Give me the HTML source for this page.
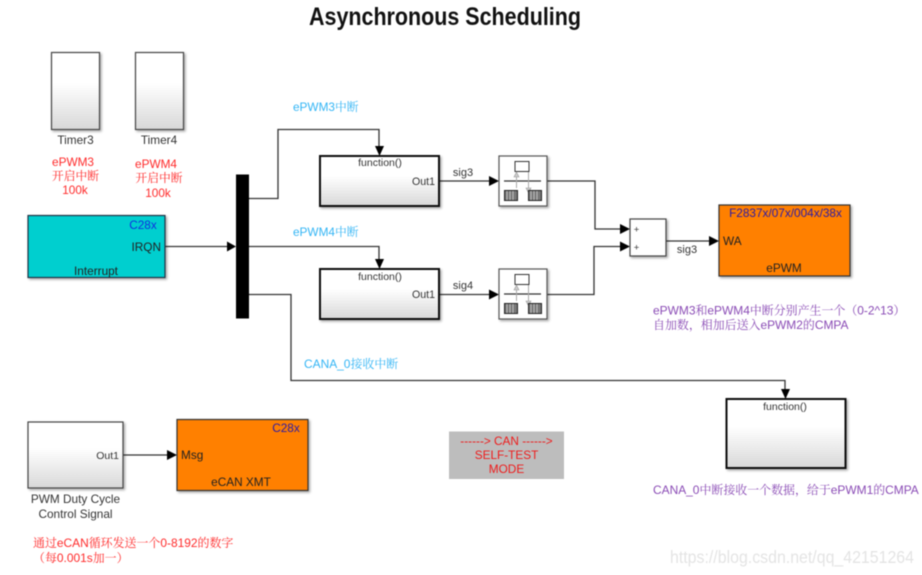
<!DOCTYPE html>
<html>
<head>
<meta charset="utf-8">
<style>
html,body{margin:0;padding:0;background:#fff}
svg{display:block;filter:blur(.5px)}
text{font-family:"Liberation Sans","Noto Serif CJK SC",serif;font-size:11.8px;fill:#333}
.m{text-anchor:middle}
.e{text-anchor:end}
.r{fill:#ff2a2a}
.c{fill:#33b5f5}
.p{fill:#8a4bb5}
.w2{font-size:11.95px}
.b{fill:#1a1acc}
.d{fill:#222}
.w{fill:none;stroke:#333;stroke-width:1.3}
.a{fill:#000}
</style>
</head>
<body>
<svg width="922" height="575" viewBox="0 0 922 575" xmlns="http://www.w3.org/2000/svg">
<defs>
<linearGradient id="g" x1="0" y1="0" x2="0" y2="1">
<stop offset="0" stop-color="#fff"/><stop offset=".4" stop-color="#fff"/><stop offset="1" stop-color="#d8d8d8"/>
</linearGradient>
<filter id="s" x="-10%" y="-10%" width="125%" height="125%">
<feDropShadow dx="1.5" dy="1.5" stdDeviation="1.2" flood-color="#000" flood-opacity=".35"/>
</filter>
</defs>

<text x="445" y="25" class="m" lengthAdjust="spacingAndGlyphs" textLength="272" style="font-size:25px;font-weight:bold;fill:#111">Asynchronous Scheduling</text>

<!-- wires -->
<path class="w" d="M249 198.500H278V129.500H379V150"/>
<path class="w" d="M249 246.500H379V262"/>
<path class="w" d="M249 294.500H291V380.500H785V392"/>
<path class="w" d="M165 246.500H228"/>
<path class="w" d="M439 181H490"/>
<path class="w" d="M439 294.500H490"/>
<path class="w" d="M547 181H595V229H622"/>
<path class="w" d="M547 294.500H594V246.500H622"/>
<path class="w" d="M666 241H712"/>
<path class="w" d="M123 455H169"/>

<!-- arrowheads -->
<path class="a" d="M227 241.500L236 246.500L227 251.500Z"/>
<path class="a" d="M375 146L384 146L379.500 156Z"/>
<path class="a" d="M375 259L384 259L379.500 269Z"/>
<path class="a" d="M781 389L790 389L785.500 399Z"/>
<path class="a" d="M489 176L499 181L489 186Z"/>
<path class="a" d="M489 289.500L499 294.500L489 299.500Z"/>
<path class="a" d="M620 224L630 229L620 234Z"/>
<path class="a" d="M620 241.500L630 246.500L620 251.500Z"/>
<path class="a" d="M709 236L719 241L709 246Z"/>
<path class="a" d="M167 450L177 455L167 460Z"/>

<!-- timers -->
<rect x="51.500" y="52.500" width="48" height="77" fill="url(#g)" stroke="#444" stroke-width="1.2" filter="url(#s)"/>
<rect x="135.500" y="52.500" width="48" height="77" fill="url(#g)" stroke="#444" stroke-width="1.2" filter="url(#s)"/>
<text x="75.500" y="144" class="m">Timer3</text>
<text x="159" y="144" class="m">Timer4</text>
<text x="73" y="166" class="m r">ePWM3</text>
<text x="75.500" y="180" class="m r">开启中断</text>
<text x="75" y="194" class="m r">100k</text>
<text x="156" y="168" class="m r">ePWM4</text>
<text x="159" y="182" class="m r">开启中断</text>
<text x="158" y="197" class="m r">100k</text>

<!-- interrupt -->
<rect x="28" y="215.500" width="137" height="62" fill="#00cfcf" stroke="#234" stroke-width="1.2" filter="url(#s)"/>
<text x="143" y="229" class="m" style="fill:#1030e0">C28x</text>
<text x="161" y="251" class="e d">IRQN</text>
<text x="96" y="275" class="m d">Interrupt</text>

<!-- bar -->
<rect x="236" y="174.500" width="13" height="144" fill="#000"/>

<!-- function blocks -->
<rect x="320" y="156" width="119" height="50" fill="url(#g)" stroke="#111" stroke-width="2" filter="url(#s)"/>
<rect x="320" y="269" width="119" height="50" fill="url(#g)" stroke="#111" stroke-width="2" filter="url(#s)"/>
<text x="380" y="166" class="m" style="font-size:10.5px">function()</text>
<text x="380" y="280" class="m" style="font-size:10.5px">function()</text>
<text x="435" y="185" class="e" style="font-size:10.6px">Out1</text>
<text x="435" y="298" class="e" style="font-size:10.6px">Out1</text>
<text x="463" y="176" class="m" style="font-size:11px">sig3</text>
<text x="463" y="289" class="m" style="font-size:11px">sig4</text>

<!-- rate-transition blocks -->
<g>
<rect x="499" y="156" width="48" height="50" fill="#fff" stroke="#555" stroke-width="1.2" filter="url(#s)"/>
<rect x="515" y="161.500" width="14" height="10" fill="#fff" stroke="#333"/>
<path d="M504 181H541" stroke="#333" stroke-width="1.2"/>
<path d="M516.500 172V188M528.500 172V188" stroke="#aaa"/>
<path d="M514 177L519 177L516.500 172Z M526 188L531 188L528.500 193Z" fill="#ccc" stroke="#999" stroke-width=".6"/>
<rect x="504.500" y="190.500" width="13" height="10" fill="#777" stroke="#222"/>
<rect x="528.500" y="190.500" width="13" height="10" fill="#777" stroke="#222"/>
<path d="M507 191V200M510 191V200M513 191V200M531 191V200M534 191V200M537 191V200" stroke="#ddd" stroke-width=".7"/>
</g>
<g transform="translate(0,113)">
<rect x="499" y="156" width="48" height="50" fill="#fff" stroke="#555" stroke-width="1.2" filter="url(#s)"/>
<rect x="515" y="161.500" width="14" height="10" fill="#fff" stroke="#333"/>
<path d="M504 181H541" stroke="#333" stroke-width="1.2"/>
<path d="M516.500 172V188M528.500 172V188" stroke="#aaa"/>
<path d="M514 177L519 177L516.500 172Z M526 188L531 188L528.500 193Z" fill="#ccc" stroke="#999" stroke-width=".6"/>
<rect x="504.500" y="190.500" width="13" height="10" fill="#777" stroke="#222"/>
<rect x="528.500" y="190.500" width="13" height="10" fill="#777" stroke="#222"/>
<path d="M507 191V200M510 191V200M513 191V200M531 191V200M534 191V200M537 191V200" stroke="#ddd" stroke-width=".7"/>
</g>

<!-- sum -->
<rect x="630" y="219" width="36" height="37" fill="#fff" stroke="#444" stroke-width="1.2" filter="url(#s)"/>
<text x="636.500" y="232.500" class="m" style="font-size:9.500px">+</text>
<text x="636.500" y="250.500" class="m" style="font-size:9.500px">+</text>
<text x="687" y="253" class="m" style="font-size:11px">sig3</text>

<!-- ePWM -->
<rect x="719" y="205" width="131" height="71" fill="#ff8000" stroke="#333" stroke-width="1.2" filter="url(#s)"/>
<text x="785.500" y="217" class="m" style="fill:#2a1aa8">F2837x/07x/004x/38x</text>
<text x="723" y="245" class="d">WA</text>
<text x="784" y="272" class="m d">ePWM</text>

<!-- labels -->
<text x="293" y="111" class="c">ePWM3中断</text>
<text x="293" y="236" class="c">ePWM4中断</text>
<text x="304" y="368" class="c w2">CANA_0接收中断</text>
<text x="653" y="314.500" class="p w2">ePWM3和ePWM4中断分别产生一个（0-2^13）</text>
<text x="653" y="329" class="p w2">自加数，相加后送入ePWM2的CMPA</text>

<!-- function 3 -->
<rect x="726.500" y="399" width="119" height="69" fill="url(#g)" stroke="#111" stroke-width="2" filter="url(#s)"/>
<text x="785" y="410" class="m" style="font-size:10.5px">function()</text>
<text x="653" y="494" class="p w2">CANA_0中断接收一个数据，给于ePWM1的CMPA</text>

<!-- self-test -->
<rect x="449" y="431.500" width="115" height="47.500" fill="#bdbdbd"/>
<text x="506.500" y="445" class="m" style="fill:#ee1c1c">------&gt; CAN ------&gt;</text>
<text x="506.500" y="459" class="m" style="fill:#ee1c1c">SELF-TEST</text>
<text x="506.500" y="473" class="m" style="fill:#ee1c1c">MODE</text>

<!-- pwm duty -->
<rect x="28" y="422" width="95" height="66" fill="url(#g)" stroke="#444" stroke-width="1.2" filter="url(#s)"/>
<text x="119" y="459" class="e" style="font-size:10.500px">Out1</text>
<text x="75.500" y="503" class="m">PWM Duty Cycle</text>
<text x="75.500" y="518" class="m">Control Signal</text>

<!-- ecan -->
<rect x="177" y="419.500" width="131" height="71" fill="#ff8000" stroke="#333" stroke-width="1.2" filter="url(#s)"/>
<text x="286" y="432" class="m" style="fill:#2a1aa8">C28x</text>
<text x="181" y="459" class="d">Msg</text>
<text x="241" y="486" class="m d">eCAN XMT</text>

<text x="33" y="547" class="r w2">通过eCAN循环发送一个0-8192的数字</text>
<text x="33" y="562" class="r w2">（每0.001s加一）</text>

<text x="670" y="563" style="font-size:17.5px;fill:#e4e4e4" lengthAdjust="spacingAndGlyphs" textLength="244">https://blog.csdn.net/qq_42151264</text>
</svg>
</body>
</html>
